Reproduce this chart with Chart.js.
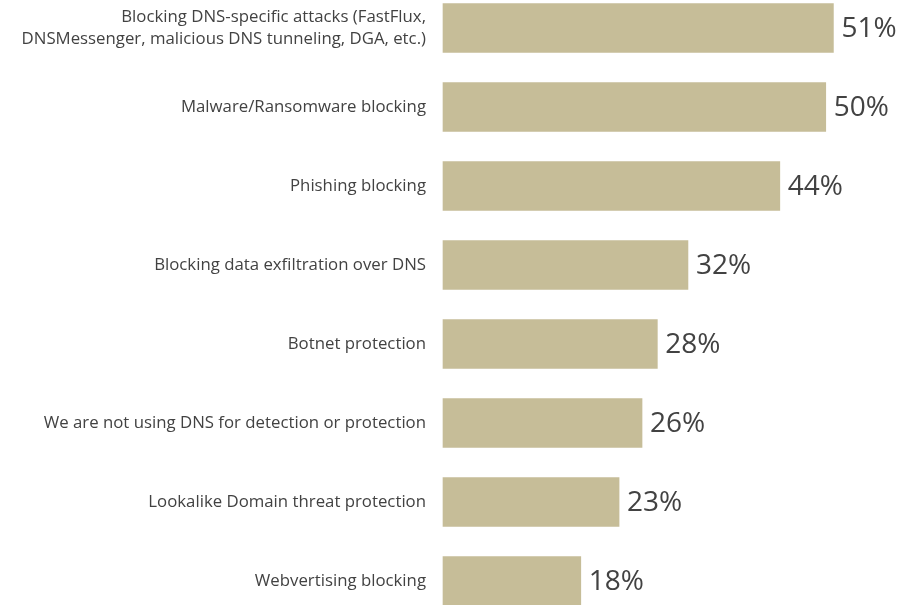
<!DOCTYPE html>
<html>
<head>
<meta charset="utf-8">
<script src="https://cdn.jsdelivr.net/npm/chart.js@4"></script>
<style>
  html, body { margin: 0; padding: 0; background: #ffffff; }
  #wrap { width: 900px; height: 605px; position: relative; }
</style>
</head>
<body>
<div id="wrap"><canvas id="chart"></canvas></div>
<script>
// Survey categories (top to bottom) and the share of respondents for each
const categories = [
  ["Blocking DNS-specific attacks (FastFlux,", "DNSMessenger, malicious DNS tunneling, DGA, etc.)"],
  "Malware/Ransomware blocking",
  "Phishing blocking",
  "Blocking data exfiltration over DNS",
  "Botnet protection",
  "We are not using DNS for detection or protection",
  "Lookalike Domain threat protection",
  "Webvertising blocking"
];
const shares = [51, 50, 44, 32, 28, 26, 23, 18];

const BAR_COLOR = "#C6BD98";
const TEXT_COLOR = "#424242";
const FONT = "'Open Sans', 'Liberation Sans', sans-serif";

// Percentage text placed just past the end of each bar
const valueLabels = {
  id: "valueLabels",
  afterDatasetsDraw(chart) {
    const ctx = chart.ctx;
    const meta = chart.getDatasetMeta(0);
    const values = chart.data.datasets[0].data;
    ctx.save();
    ctx.font = "28px " + FONT;
    ctx.fillStyle = TEXT_COLOR;
    ctx.textAlign = "left";
    ctx.textBaseline = "middle";
    meta.data.forEach((bar, i) => {
      ctx.fillText(values[i] + "%", bar.x + 8, bar.y + 1);
    });
    ctx.restore();
  }
};

new Chart(document.getElementById("chart"), {
  type: "bar",
  data: {
    labels: categories,
    datasets: [{
      data: shares,
      backgroundColor: BAR_COLOR,
      borderWidth: 0,
      barThickness: 49,
      clip: false
    }]
  },
  options: {
    indexAxis: "y",
    responsive: true,
    maintainAspectRatio: false,
    animation: false,
    layout: { padding: { top: 28, bottom: 24, left: 0, right: 0 } },
    plugins: {
      legend: { display: false },
      tooltip: { enabled: false }
    },
    scales: {
      x: {
        min: 0,
        max: 59.7,
        display: false
      },
      y: {
        offset: false,
        grid: { display: false, drawTicks: false },
        border: { display: false },
        afterFit(scale) {
          scale.width = 443;
          scale.paddingTop = 0;
          scale.paddingBottom = 0;
        },
        ticks: {
          padding: 17,
          color: TEXT_COLOR,
          font: { family: FONT, size: 16.8, lineHeight: 1.32 }
        }
      }
    }
  },
  plugins: [valueLabels]
});
</script>
</body>
</html>
